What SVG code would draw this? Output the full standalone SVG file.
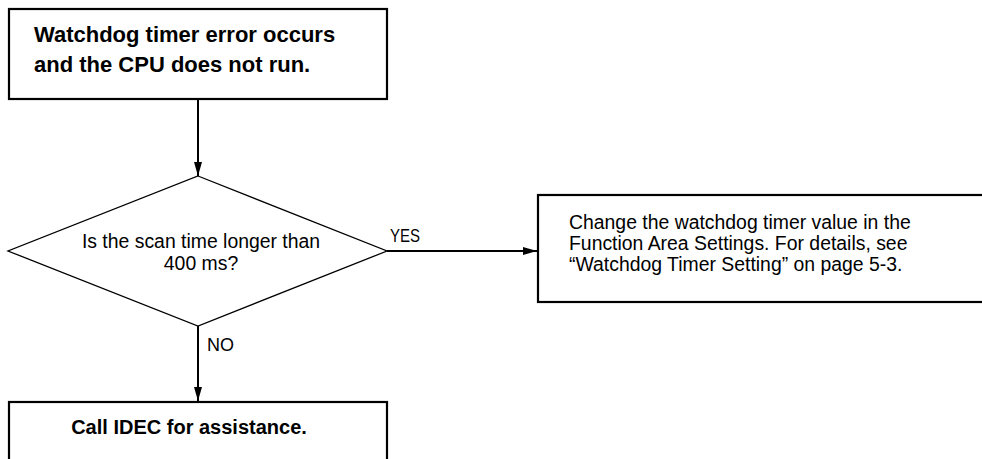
<svg xmlns="http://www.w3.org/2000/svg" width="982" height="459" viewBox="0 0 982 459">
<style>
.box{fill:#fff;stroke:#000;stroke-width:2.2}
.dia{fill:#fff;stroke:#000;stroke-width:1.3}
.con{fill:none;stroke:#000;stroke-width:2}
.b{font-family:"Liberation Sans",Arial,sans-serif;font-weight:bold;fill:#000}
.t{font-family:"Liberation Sans",Arial,sans-serif;fill:#000}
</style>
<defs>
<marker id="ah" markerUnits="userSpaceOnUse" markerWidth="14" markerHeight="8" refX="14" refY="4" orient="auto">
<path d="M0,0 L14,4 L0,8 z" fill="#000"/>
</marker>
</defs>
<rect width="982" height="459" fill="#fff"/>
<g id="start">
<rect class="box" x="9" y="9" width="378" height="90"/>
<text class="b" font-size="22" x="34" y="42">Watchdog timer error occurs</text>
<text class="b" font-size="22" x="34" y="72">and the CPU does not run.</text>
</g>
<g id="decision">
<polygon class="dia" points="198,176 387,251 198,326 8,251"/>
<text class="t" font-size="19.4" x="201" y="248" text-anchor="middle">Is the scan time longer than</text>
<text class="t" font-size="19.4" x="201" y="270" text-anchor="middle">400 ms?</text>
</g>
<g id="change">
<rect class="box" x="538" y="195" width="460" height="107"/>
<text class="t" font-size="19.4" x="569" y="229">Change the watchdog timer value in the</text>
<text class="t" font-size="19.4" x="569" y="250">Function Area Settings. For details, see</text>
<text class="t" font-size="19.4" x="569" y="271">“Watchdog Timer Setting” on page 5-3.</text>
</g>
<g id="call">
<rect class="box" x="9" y="402" width="378" height="80"/>
<text class="b" font-size="20" x="189" y="434" text-anchor="middle">Call IDEC for assistance.</text>
</g>
<g id="connectors">
<line class="con" x1="198" y1="99" x2="198" y2="176" marker-end="url(#ah)"/>
<line class="con" x1="387" y1="251" x2="537" y2="251" marker-end="url(#ah)"/>
<line class="con" x1="198" y1="326" x2="198" y2="401" marker-end="url(#ah)"/>
<text class="t" font-size="18" x="390" y="242" textLength="30" lengthAdjust="spacingAndGlyphs">YES</text>
<text class="t" font-size="18" x="207" y="351" textLength="27" lengthAdjust="spacingAndGlyphs">NO</text>
</g>
</svg>
